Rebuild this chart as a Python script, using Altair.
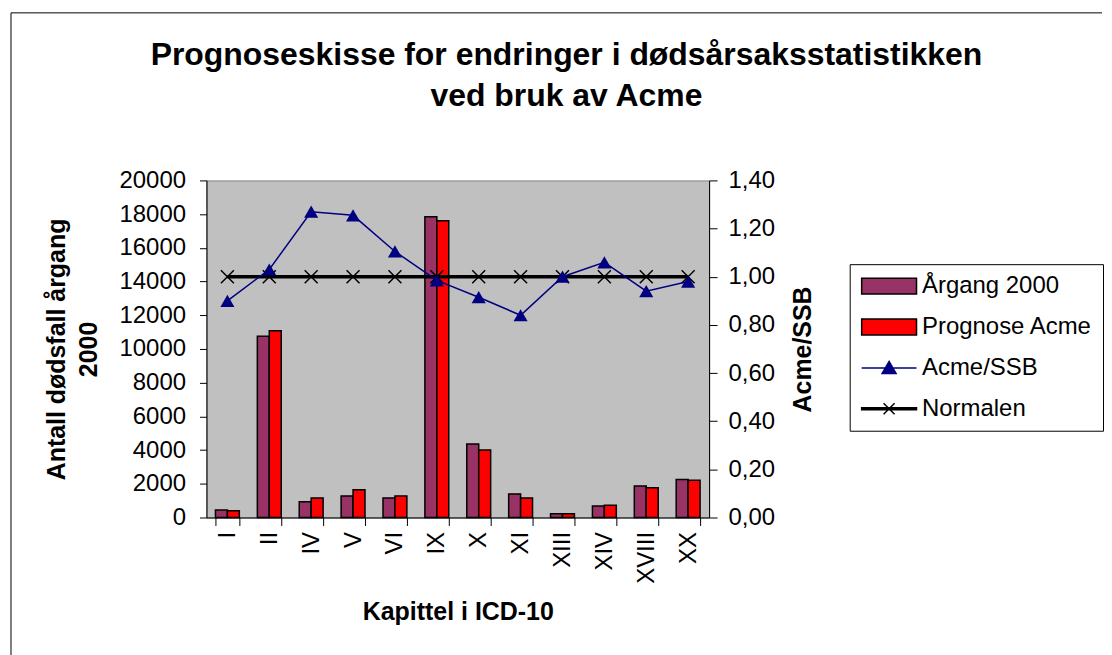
import altair as alt
import pandas as pd

# ---- data ----
categories = ["I", "II", "IV", "V", "VI", "IX", "X", "XI", "XIII", "XIV", "XVIII", "XX"]
aargang_2000 = [440, 10750, 930, 1280, 1160, 17850, 4360, 1400, 220, 680, 1870, 2250]
prognose_acme = [400, 11080, 1160, 1640, 1280, 17610, 4000, 1160, 220, 720, 1760, 2210]
acme_ssb = [0.90, 1.03, 1.27, 1.255, 1.105, 0.985, 0.915, 0.84, 1.00, 1.06, 0.94, 0.98]
normalen = [1.00, 1.00, 1.00, 1.00, 1.00, 1.00, 1.00, 1.00, 1.00, 1.00, 1.00, 1.00]

series_names = ["Årgang 2000", "Prognose Acme", "Acme/SSB", "Normalen"]
series_colors = ["#993366", "#FF0000", "#000080", "#000000"]
series_strokes = ["#000000", "#000000", "#000080", "#000000"]
left_ticks = [0, 2000, 4000, 6000, 8000, 10000, 12000, 14000, 16000, 18000, 20000]
right_ticks = [0.0, 0.2, 0.4, 0.6, 0.8, 1.0, 1.2, 1.4]

title_lines = ["Prognoseskisse for endringer i dødsårsaksstatistikken", "ved bruk av Acme"]
left_title = ["Antall dødsfall årgang", "2000"]
right_title = "Acme/SSB"
x_title = "Kapittel i ICD-10"

FONT = "Liberation Sans"

bars_df = pd.DataFrame(
    [{"kapittel": c, "serie": series_names[0], "antall": v} for c, v in zip(categories, aargang_2000)]
    + [{"kapittel": c, "serie": series_names[1], "antall": v} for c, v in zip(categories, prognose_acme)]
)
lines_df = pd.DataFrame({"kapittel": categories, "acme_ssb": acme_ssb, "normalen": normalen})
legend_df = pd.DataFrame({"serie": series_names})

x_scale = alt.Scale(domain=categories, paddingInner=0.43, paddingOuter=0.215)
x_axis = alt.Axis(
    title=x_title, labelAngle=270, labelFont=FONT, labelFontSize=24, labelColor="black",
    tickBand="extent", tickSize=8, tickColor="black", domainColor="black", labelPadding=6,
    titleFont=FONT, titleFontSize=25, titleFontWeight="bold", titleColor="black",
    titlePadding=16, grid=False,
)

# legend symbols (unit = 10 px with symbolSize 400)
rect_path = "M-2.75,-0.8H2.75V0.8H-2.75Z"
tri_path = "M-2.75,0H2.75M0,-0.65L0.7,0.55L-0.7,0.55Z"
x_path = "M-2.75,-0.1H2.75V0.1H-2.75Z M-0.55,-0.55L0.55,0.55M0.55,-0.55L-0.55,0.55"
legend_shapes = [rect_path, rect_path, tri_path, x_path]

legend = alt.Legend(
    orient="none", legendX=645, legendY=84, direction="vertical", title=None,
    strokeColor="black", fillColor="white", padding=10, symbolSize=400,
    symbolOffset=17.5, labelOffset=21, labelFont=FONT, labelFontSize=24,
    labelColor="black", rowPadding=17, labelLimit=400, symbolOpacity=1,
    symbolStrokeWidth=1.5,
)

# chart border: top and left edges (the right and bottom run off the picture)
border_df = pd.DataFrame({"f": [0]})
border_top = alt.Chart(border_df).mark_rule(color="black", strokeWidth=1).encode(
    x=alt.value(-196), x2=alt.value(898), y=alt.value(-168)
)
border_left = alt.Chart(border_df).mark_rule(color="black", strokeWidth=1).encode(
    x=alt.value(-196), y=alt.value(-168), y2=alt.value(476)
)

color_enc = alt.Color("serie:N", scale=alt.Scale(domain=series_names, range=series_colors), legend=legend)

bars = alt.Chart(bars_df).mark_bar(stroke="black", strokeWidth=1.5).encode(
    x=alt.X("kapittel:N", scale=x_scale, axis=x_axis, sort=categories),
    xOffset=alt.XOffset("serie:N", scale=alt.Scale(domain=series_names[:2], paddingInner=0)),
    y=alt.Y(
        "antall:Q", scale=alt.Scale(domain=[0, 20000], nice=False),
        axis=alt.Axis(
            orient="left", values=left_ticks, format="d", title=left_title,
            labelFont=FONT, labelFontSize=24, labelColor="black", labelPadding=14,
            tickSize=7, tickColor="black", domainColor="black", grid=False,
            titleFont=FONT, titleFontSize=25, titleFontWeight="bold", titleColor="black",
            titleLineHeight=32, titlePadding=18,
        ),
    ),
    color=color_enc,
)

legend_layer = alt.Chart(legend_df).mark_point(filled=True, opacity=0, strokeWidth=1.5).encode(
    x=alt.value(0), y=alt.value(0),
    color=color_enc,
    shape=alt.Shape("serie:N", scale=alt.Scale(domain=series_names, range=legend_shapes), legend=legend),
    stroke=alt.Stroke("serie:N", scale=alt.Scale(domain=series_names, range=series_strokes), legend=legend),
)

right_axis = alt.Axis(
    orient="right", values=right_ticks,
    labelExpr="replace(format(datum.value, '.2f'), '.', ',')", title=right_title,
    titleAngle=270, titleBaseline="top", labelFont=FONT, labelFontSize=24, labelColor="black",
    labelPadding=11, tickSize=8, tickColor="black", domainColor="black", grid=False,
    titleFont=FONT, titleFontSize=25, titleFontWeight="bold", titleColor="black", titlePadding=16,
)
right_scale = alt.Scale(domain=[0, 1.4], nice=False)

base = alt.Chart(lines_df)
norm_line = base.mark_line(color="black", strokeWidth=3.5).encode(
    x=alt.X("kapittel:N", scale=x_scale, axis=x_axis, sort=categories),
    y=alt.Y("normalen:Q", scale=right_scale, axis=right_axis),
)
norm_pts = base.mark_point(
    shape="M-1,-1L1,1M1,-1L-1,1", filled=False, color="black", size=169, strokeWidth=1.5, opacity=1
).encode(
    x=alt.X("kapittel:N", scale=x_scale, axis=x_axis, sort=categories),
    y=alt.Y("normalen:Q", scale=right_scale, axis=right_axis),
)
ratio_line = base.mark_line(color="#000080", strokeWidth=1.5).encode(
    x=alt.X("kapittel:N", scale=x_scale, axis=x_axis, sort=categories),
    y=alt.Y("acme_ssb:Q", scale=right_scale, axis=right_axis),
)
ratio_pts = base.mark_point(
    shape="triangle-up", filled=True, color="#000080", size=200, opacity=1
).encode(
    x=alt.X("kapittel:N", scale=x_scale, axis=x_axis, sort=categories),
    y=alt.Y("acme_ssb:Q", scale=right_scale, axis=right_axis),
)

right_layer = alt.layer(norm_line, norm_pts, ratio_line, ratio_pts)

chart = alt.layer(border_top, border_left, legend_layer, bars, right_layer).resolve_scale(
    y="independent"
).properties(
    width=504, height=338,
    padding={"left": 2, "top": 3, "right": 0, "bottom": 0},
    title=alt.TitleParams(
        title_lines, font=FONT, fontSize=32, fontWeight="bold", color="black",
        anchor="middle", frame="group", dx=109, offset=-100.5, lineHeight=41,
    ),
).configure(background="white").configure_view(fill="#C0C0C0", stroke="#808080")

chart.save("out.html", embed_options={"renderer": "svg", "actions": False})
